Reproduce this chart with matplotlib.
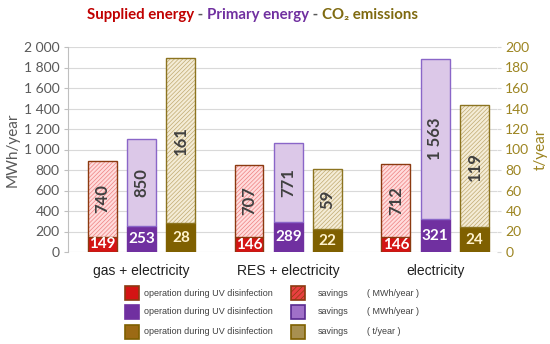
import matplotlib
matplotlib.use("Agg")
import matplotlib.pyplot as plt
from matplotlib.patches import Rectangle
from matplotlib.ticker import FuncFormatter
import numpy as np

categories = ['gas + electricity', 'RES + electricity', 'electricity']
supplied_op = [149, 146, 146]
supplied_sav = [740, 707, 712]
primary_op = [253, 289, 321]
primary_sav = [850, 771, 1563]
co2_op = [28, 22, 24]
co2_sav = [161, 59, 119]
left_ticks = [0, 200, 400, 600, 800, 1000, 1200, 1400, 1600, 1800, 2000]
right_ticks = [0, 20, 40, 60, 80, 100, 120, 140, 160, 180, 200]
legend_text = 'operation during UV disinfection'
legend_units = ['( MWh/year )', '( MWh/year )', '( t/year )']

plt.rcParams['font.family'] = ['Lato', 'DejaVu Sans']
plt.rcParams['hatch.linewidth'] = 0.5

fig = plt.figure(figsize=(5.5, 3.44), dpi=100)
ax = fig.add_axes([68/550, 1-252/344, (497-68)/550, (252-47)/344])
ax2 = ax.twinx()

x = np.arange(len(categories))
w = 0.197
off = 0.268

RED = '#d41414'; RED_E = '#8b3a10'; RED_H = '#ffdcdc'; RED_HL = '#ee8080'
PUR = '#7030a0'; PUR_L = '#dcc8e8'; PUR_E = '#8a66c8'
OLI = '#7f6000'; OLI_H = '#f4ecd6'; OLI_HL = '#c0aa70'; OLI_E = '#8c7420'
LBL = '#404040'

def stacked(axis, xs, op, sav, opc, ope, savface, savhatch, save, oplabelc):
    axis.bar(xs, op, w, color=opc, edgecolor=ope, linewidth=1.0, zorder=3)
    if savhatch:
        axis.bar(xs, sav, w, bottom=op, color=savface, edgecolor=savhatch,
                 hatch='////////', linewidth=0, zorder=3)
        axis.bar(xs, sav, w, bottom=op, fill=False, edgecolor=save, linewidth=1.0, zorder=4)
    else:
        axis.bar(xs, sav, w, bottom=op, color=savface, edgecolor=save, linewidth=1.0, zorder=3)
    for xi, o, s in zip(xs, op, sav):
        axis.text(xi, o/2, f'{o:,}'.replace(',', ' '), ha='center', va='center',
                  color=oplabelc, fontsize=11, fontweight='bold', zorder=5)
        axis.text(xi, o + s/2, f'{s:,}'.replace(',', ' '), ha='center', va='center',
                  rotation=90, color=LBL, fontsize=12, fontweight='bold', zorder=5)

stacked(ax, x - off, supplied_op, supplied_sav, RED, RED_E, RED_H, RED_HL, RED_E, 'white')
stacked(ax, x, primary_op, primary_sav, PUR, PUR, PUR_L, None, PUR_E, 'white')
stacked(ax2, x + off, co2_op, co2_sav, OLI, OLI, OLI_H, OLI_HL, OLI_E, '#fff2cc')

ax.set_xlim(-0.5, 2.42)
ax.set_ylim(0, 2000)
ax2.set_ylim(0, 200)
ax.set_yticks(left_ticks)
ax2.set_yticks(right_ticks)
ax.yaxis.set_major_formatter(FuncFormatter(lambda v, p: f'{int(v):,}'.replace(',', ' ')))
ax.grid(axis='y', color='#d9d9d9', linewidth=0.8, zorder=0)
ax.set_axisbelow(True)
ax.set_xticks(x)
ax.set_xticklabels(categories, fontsize=10, color='#202020', family='Liberation Sans')
ax.tick_params(axis='x', length=0, pad=9)
ax.tick_params(axis='y', labelsize=10, labelcolor='#595959', color='#bfbfbf', length=3, pad=3)
ax2.tick_params(axis='y', labelsize=10, labelcolor='#9c8420', color='#d9d9d9', length=3, pad=3)
for s in ['top', 'right', 'bottom']:
    ax.spines[s].set_visible(False)
    ax2.spines[s].set_visible(False)
ax2.spines['left'].set_visible(False)
ax.spines['left'].set_color('#bfbfbf')
ax.set_ylabel('MWh/year', fontsize=11, color='#595959', labelpad=3)
ax2.set_ylabel('t/year', fontsize=11, color='#9c8420', labelpad=3)

# Title
t1 = fig.text(87/550, 1-15/344, 'Supplied energy', fontsize=10.8, fontweight='bold',
              color='#c00000', va='center', ha='left')
t2 = ax.annotate(' - ', xy=(1, 0), xycoords=t1, va='bottom', ha='left',
                 fontsize=10.8, fontweight='bold', color='#595959', annotation_clip=False)
t3 = ax.annotate('Primary energy', xy=(1, 0), xycoords=t2, va='bottom', ha='left',
                 fontsize=10.8, fontweight='bold', color='#7030a0', annotation_clip=False)
t4 = ax.annotate(' - ', xy=(1, 0), xycoords=t3, va='bottom', ha='left',
                 fontsize=10.8, fontweight='bold', color='#595959', annotation_clip=False)
t5 = ax.annotate('CO₂ emissions', xy=(1, 0), xycoords=t4, va='bottom', ha='left',
                 fontsize=10.8, fontweight='bold', color='#7f6a10', annotation_clip=False)

# Legend
rows_y = [293, 312, 332]
op_fc = [RED, PUR, '#9c6a14']
op_ec = [RED_E, PUR, OLI]
sv_fc = ['#e84040', '#a070c8', '#a89050']
sv_ec = [RED_E, '#5a2a90', OLI]
sv_h = ['//////', None, None]
for i, yy in enumerate(rows_y):
    yc = 1 - yy/344
    hh = 14/344
    fig.add_artist(Rectangle((125/550, yc - hh/2), 14/550, hh, transform=fig.transFigure,
                             facecolor=op_fc[i], edgecolor=op_ec[i], linewidth=1.2))
    fig.add_artist(Rectangle((291/550, yc - hh/2), 14/550, hh, transform=fig.transFigure,
                             facecolor=sv_fc[i], edgecolor=sv_ec[i], linewidth=1.2,
                             hatch=sv_h[i]))
    fig.text(144/550, yc, legend_text, fontsize=6.5, family='Liberation Sans',
             color='#404040', va='center', ha='left')
    fig.text(318/550, yc, 'savings', fontsize=6.5, family='Liberation Sans',
             color='#404040', va='center', ha='left')
    fig.text(367/550, yc, legend_units[i], fontsize=6.5, family='Liberation Sans',
             color='#404040', va='center', ha='left')

fig.savefig('out.png', dpi=100)
